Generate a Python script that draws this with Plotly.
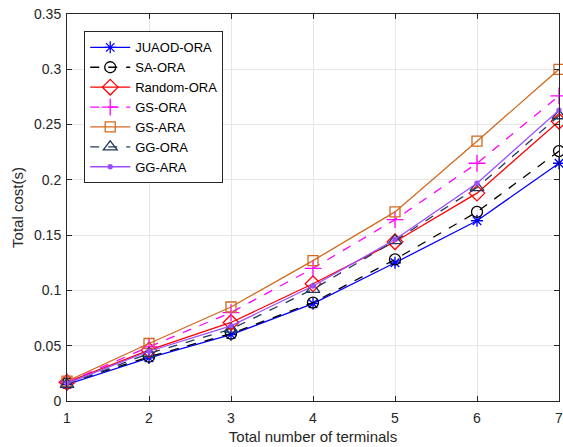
import plotly.graph_objects as go

terminals = [1, 2, 3, 4, 5, 6, 7]
juaod_ora = [0.015, 0.039, 0.060, 0.088, 0.125, 0.163, 0.215]
sa_ora = [0.016, 0.040, 0.061, 0.089, 0.128, 0.171, 0.226]
random_ora = [0.017, 0.046, 0.071, 0.106, 0.144, 0.188, 0.253]
gs_ora = [0.017, 0.049, 0.080, 0.120, 0.164, 0.215, 0.276]
gs_ara = [0.018, 0.052, 0.085, 0.127, 0.171, 0.235, 0.300]
gg_ora = [0.015, 0.043, 0.065, 0.101, 0.145, 0.193, 0.258]
gg_ara = [0.016, 0.045, 0.068, 0.104, 0.146, 0.197, 0.263]

y_ticks = [0, 0.05, 0.1, 0.15, 0.2, 0.25, 0.3, 0.35]
y_tick_text = ["0", "0.05", "0.1", "0.15", "0.2", "0.25", "0.3", "0.35"]

series = [
    ("JUAOD-ORA", juaod_ora, "#0000FF", "solid", "asterisk-open", 10),
    ("SA-ORA", sa_ora, "#000000", "dash", "circle-open", 11),
    ("Random-ORA", random_ora, "#FF0000", "solid", "diamond-open", 12),
    ("GS-ORA", gs_ora, "#FF00FF", "dash", "cross-thin-open", 12),
    ("GS-ARA", gs_ara, "#D2691E", "solid", "square-open", 10),
    ("GG-ORA", gg_ora, "#1F3A5F", "dash", "triangle-up-open", 12),
    ("GG-ARA", gg_ara, "#9B4DFF", "solid", "circle", 4),
]

FONT = "Liberation Sans, Arial, sans-serif"

fig = go.Figure()
for name, vals, color, dash, sym, size in series:
    fig.add_trace(go.Scatter(
        x=terminals, y=vals, name=name, mode="lines+markers",
        line=dict(color=color, width=1.3, dash=dash),
        marker=dict(symbol=sym, size=size, color=color,
                    line=dict(color=color, width=1.3)),
        cliponaxis=False,
    ))

axis_common = dict(
    showline=True, linecolor="#262626", linewidth=1, mirror="ticks",
    ticks="inside", ticklen=5, tickcolor="#262626",
    showgrid=True, gridcolor="#E6E6E6", gridwidth=1, zeroline=False,
    tickfont=dict(family=FONT, size=14, color="#262626"),
    ticklabeloverflow="allow",
)

fig.update_xaxes(
    range=[1, 7], tickvals=terminals, ticklabelstandoff=4,
    title=dict(text="Total number of terminals", standoff=6,
               font=dict(family=FONT, size=15, color="#262626")),
    **axis_common,
)
fig.update_yaxes(
    range=[0, 0.35], tickvals=y_ticks, ticktext=y_tick_text, ticklabelstandoff=2,
    title=dict(text="Total cost(s)", standoff=6,
               font=dict(family=FONT, size=15, color="#262626")),
    **axis_common,
)

fig.update_layout(
    width=563, height=447,
    margin=dict(l=67, r=4, t=14, b=46, autoexpand=False),
    paper_bgcolor="white", plot_bgcolor="white",
    showlegend=True,
    legend=dict(
        x=0.035, y=0.955, xanchor="left", yanchor="top",
        bgcolor="white", bordercolor="#262626", borderwidth=1,
        font=dict(family=FONT, size=13, color="#000000"),
        tracegroupgap=0, itemwidth=40,
    ),
)

fig.write_html("out.html")
